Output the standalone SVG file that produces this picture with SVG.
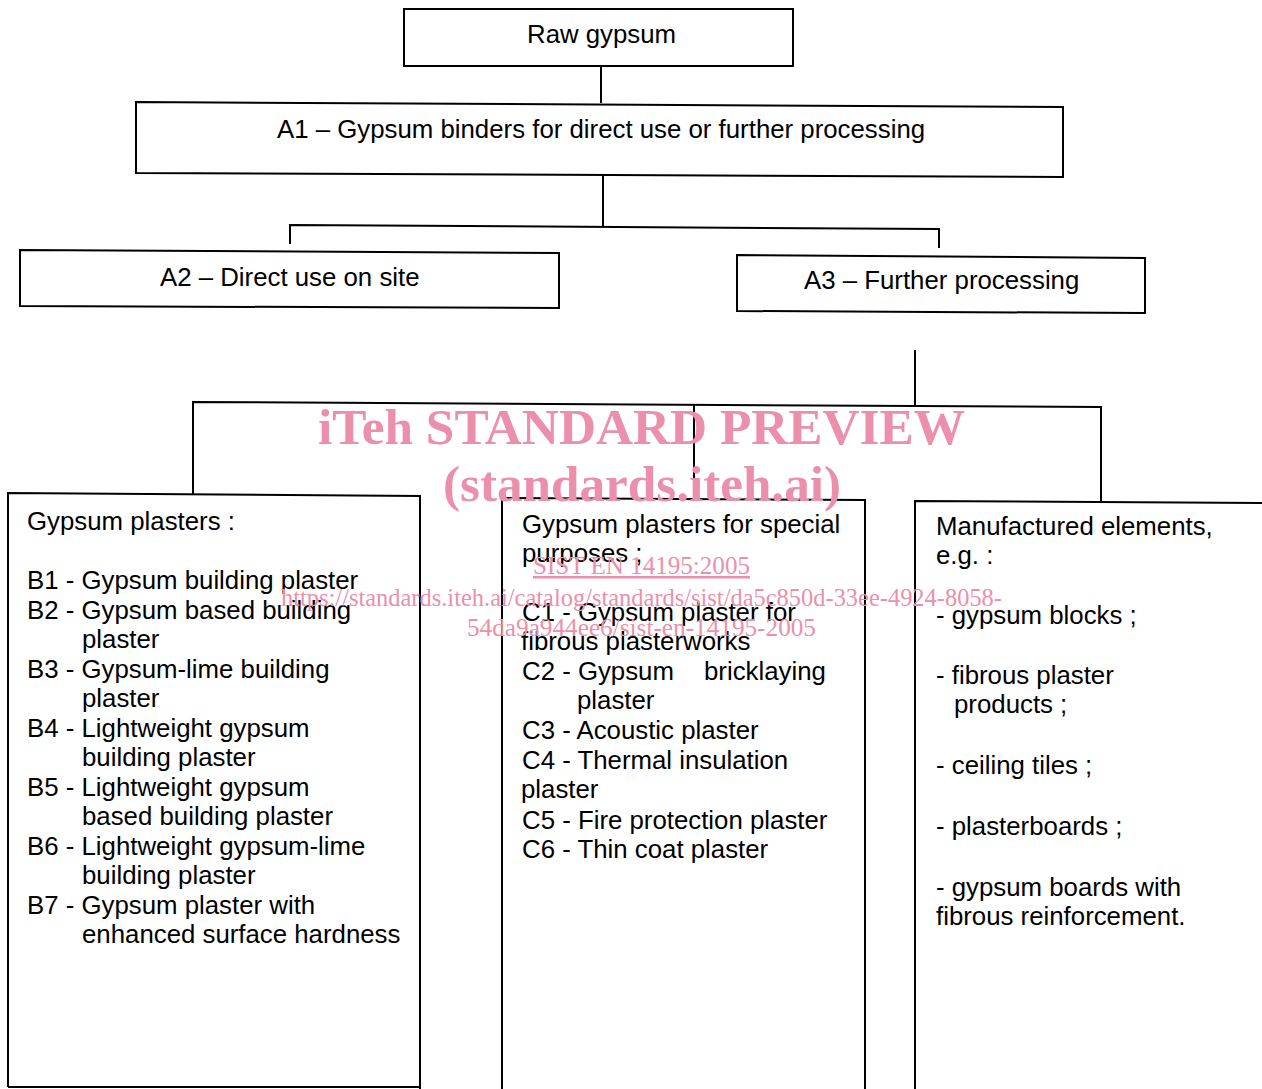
<svg xmlns="http://www.w3.org/2000/svg" width="1262" height="1089" viewBox="0 0 1262 1089">
<style>
.box{fill:none;stroke:#000;stroke-width:2}
.ln{fill:none;stroke:#000;stroke-width:2}
.t{font-family:"Liberation Sans",Arial,sans-serif;font-size:25.8px;fill:#000}
.wm{font-family:"Liberation Serif","Times New Roman",serif;fill:#ec8fab}
.wb{font-weight:bold;font-size:50px}
.wr{font-size:25px}
</style>
<rect width="1262" height="1089" fill="#fff"/>
<g id="connectors">
<path class="ln" d="M601 66 V103"/>
<path class="ln" d="M603 175 V226"/>
<path class="ln" d="M290 244 V225 L939 229 V248"/>
<path class="ln" d="M915 350 V406"/>
<path class="ln" d="M193 495 V402 L1101 407 V501"/>
<path class="ln" d="M694 405 V499"/>
</g>
<g id="raw">
<rect class="box" x="404" y="9" width="389" height="57"/>
<text class="t" x="527" y="43">Raw gypsum</text>
</g>
<g id="a1">
<polygon class="box" points="136,102 1063,107 1063,177 136,173"/>
<text class="t" x="277" y="138">A1 – Gypsum binders for direct use or further processing</text>
</g>
<g id="a2">
<polygon class="box" points="20,250 559,253 559,308 20,306"/>
<text class="t" x="160" y="286">A2 – Direct use on site</text>
</g>
<g id="a3">
<polygon class="box" points="737,255 1145,258 1145,313 737,311"/>
<text class="t" x="804" y="289">A3 – Further processing</text>
</g>
<g id="b">
<path class="box" d="M8 1087 V493 L420 496 V1089 M8 1087 H420"/>
<text class="t">
<tspan x="27" y="530">Gypsum plasters :</tspan>
<tspan x="27" y="589">B1 - Gypsum building plaster</tspan>
<tspan x="27" y="619">B2 - Gypsum based building</tspan>
<tspan x="82" y="648">plaster</tspan>
<tspan x="27" y="678">B3 - Gypsum-lime building</tspan>
<tspan x="82" y="707">plaster</tspan>
<tspan x="27" y="737">B4 - Lightweight gypsum</tspan>
<tspan x="82" y="766">building plaster</tspan>
<tspan x="27" y="796">B5 - Lightweight gypsum</tspan>
<tspan x="82" y="825">based building plaster</tspan>
<tspan x="27" y="855">B6 - Lightweight gypsum-lime</tspan>
<tspan x="82" y="884">building plaster</tspan>
<tspan x="27" y="914">B7 - Gypsum plaster with</tspan>
<tspan x="82" y="943">enhanced surface hardness</tspan>
</text>
</g>
<g id="c">
<path class="box" d="M502 1089 V498 L865 500 V1089"/>
<text class="t">
<tspan x="522" y="533">Gypsum plasters for special</tspan>
<tspan x="522" y="562">purposes ;</tspan>
<tspan x="522" y="621">C1 - Gypsum plaster for</tspan>
<tspan x="521" y="650">fibrous plasterworks</tspan>
<tspan x="522" y="680">C2 - Gypsum</tspan><tspan x="704" y="680">bricklaying</tspan>
<tspan x="577" y="709">plaster</tspan>
<tspan x="522" y="739">C3 - Acoustic plaster</tspan>
<tspan x="522" y="769">C4 - Thermal insulation</tspan>
<tspan x="521" y="798">plaster</tspan>
<tspan x="522" y="829">C5 - Fire protection plaster</tspan>
<tspan x="522" y="858">C6 - Thin coat plaster</tspan>
</text>
</g>
<g id="d">
<path class="box" d="M915 1089 V501 L1262 503"/>
<text class="t">
<tspan x="936" y="535">Manufactured elements,</tspan>
<tspan x="936" y="564">e.g. :</tspan>
<tspan x="936" y="624">- gypsum blocks ;</tspan>
<tspan x="936" y="684">- fibrous plaster</tspan>
<tspan x="954" y="713">products ;</tspan>
<tspan x="936" y="774">- ceiling tiles ;</tspan>
<tspan x="936" y="835">- plasterboards ;</tspan>
<tspan x="936" y="896">- gypsum boards with</tspan>
<tspan x="936" y="925">fibrous reinforcement.</tspan>
</text>
</g>
<g id="watermark">
<text class="wm wb" x="318" y="444" textLength="647" lengthAdjust="spacingAndGlyphs">iTeh STANDARD PREVIEW</text>
<text class="wm wb" x="443" y="501" textLength="398" lengthAdjust="spacingAndGlyphs">(standards.iteh.ai)</text>
<text class="wm wr" x="533" y="574" textLength="217" lengthAdjust="spacingAndGlyphs" text-decoration="underline">SIST EN 14195:2005</text>
<text class="wm wr" x="281" y="606" textLength="721" lengthAdjust="spacingAndGlyphs">https://standards.iteh.ai/catalog/standards/sist/da5c850d-33ee-4924-8058-</text>
<text class="wm wr" x="467" y="636" textLength="349" lengthAdjust="spacingAndGlyphs">54da9a944ee6/sist-en-14195-2005</text>
</g>
</svg>
